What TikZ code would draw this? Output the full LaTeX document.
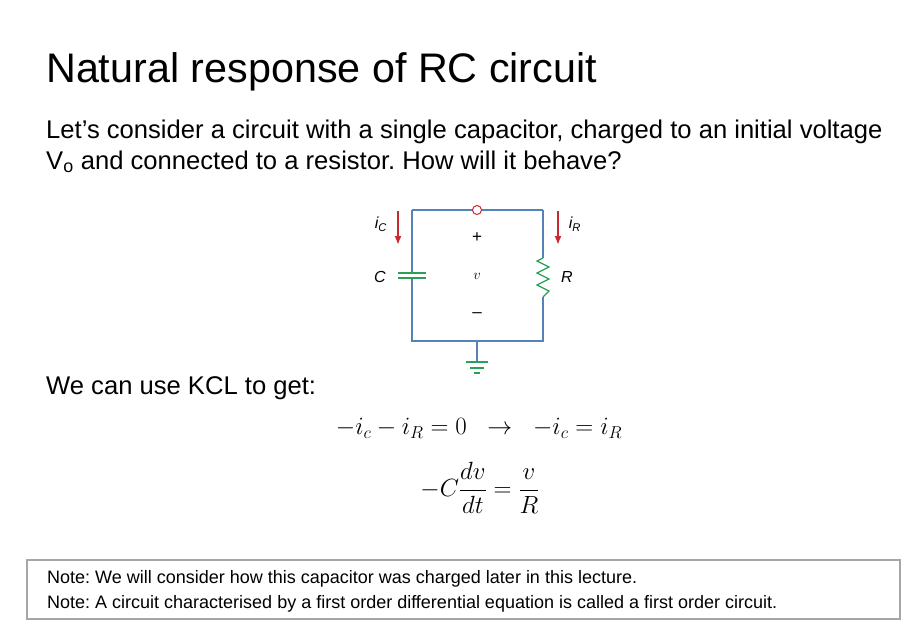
\documentclass[tikz,border=0pt]{standalone}
\usepackage{fontspec}
\setmainfont{Liberation Sans}
\usepackage{amsmath}
\usetikzlibrary{positioning}
\usetikzlibrary{arrows.meta}
\frenchspacing
\definecolor{wireblue}{RGB}{84,130,185}
\definecolor{partgreen}{RGB}{40,160,90}
\definecolor{arrowred}{RGB}{200,40,50}
\tikzset{
  wire/.style={wireblue, line width=1.2pt},
  part/.style={partgreen, line width=1.2pt},
  current/.style={arrowred, line width=2pt, -{Latex[length=9pt,width=7pt]}},
  txt/.style={anchor=base west, inner sep=0pt},
}
\begin{document}
\begin{tikzpicture}[x=1pt,y=-1pt]
\useasboundingbox (0,0) rectangle (912,629);
%title and text
\node[txt, font=\fontsize{41.3}{44}\selectfont] (title) at (46,82) {Natural response of RC circuit};
\node[txt, font=\fontsize{25.6}{28}\selectfont] (line1) at (46,138) {Let’s consider a circuit with a single capacitor, charged to an initial voltage};
\node[txt, font=\fontsize{25.6}{28}\selectfont] (line2) at (46,169) {V\textsubscript{o} and connected to a resistor. How will it behave?};
%circuit
\coordinate (tl) at (412,210);
\coordinate (tr) at (543,210);
\coordinate (bl) at (412,341);
\coordinate (br) at (543,341);
\coordinate (gnd) at (477,341);
\draw[wire] (tl) |- (473,210);
\draw[wire] (481,210) -| (tr);
\draw[wire] (tl) -- (412,273) (412,278) -- (bl) -- (br) -- (543,297) (543,258) -- (tr);
\draw[wire] (gnd) -- (477,362);
\draw[arrowred, line width=1pt, fill=white] (477,210) circle (4.5);
%capacitor
\draw[part] (398,273) -- (426,273) (398,278) -- (426,278);
%resistor
\draw[part] (543,258) -- (537,261) -- (549,267) -- (537,273) -- (549,279) -- (537,285) -- (549,291) -- (543,297);
%ground
\draw[part] (466,362) -- (488,362) (470,368) -- (484,368) (474,373) -- (480,373);
%currents
\draw[current] (398,211) -- (398,245);
\draw[current] (558,211) -- (558,245);
\node[font=\fontsize{16}{18}\selectfont\itshape] (ic) at (381,224) {i\textsubscript{C}};
\node[font=\fontsize{16}{18}\selectfont\itshape] (ir) at (575,224) {i\textsubscript{R}};
\node[font=\fontsize{16}{18}\selectfont\itshape] (cl) at (380,277) {C};
\node[font=\fontsize{16}{18}\selectfont\itshape] (rl) at (567,277) {R};
\node[font=\fontsize{17}{18}\selectfont] (plus) at (477,238) {+};
\node[font=\fontsize{15}{17}\selectfont] (vl) at (477,276) {$v$};
\node[font=\fontsize{17}{18}\selectfont] (minus) at (477,315) {--};
%equations
\node[txt, font=\fontsize{25.6}{28}\selectfont] (kcl) at (46,394) {We can use KCL to get:};
\node[font=\fontsize{27}{30}\selectfont] (eq1) at (479,428) {$-i_c - i_R = 0 \;\;\rightarrow\;\; -i_c = i_R$};
\node[font=\fontsize{26}{30}\selectfont] (eq2) at (480,488) {$-C\dfrac{dv}{dt} = \dfrac{v}{R}$};
%notes
\draw[gray!70, line width=1.5pt] (27,560) rectangle (900,619);
\node[txt, font=\fontsize{18}{20}\selectfont] (note1) at (47,583) {Note: We will consider how this capacitor was charged later in this lecture.};
\node[txt, font=\fontsize{18}{20}\selectfont] (note2) at (47,608) {Note: A circuit characterised by a first order differential equation is called a first order circuit.};
\end{tikzpicture}
\end{document}
